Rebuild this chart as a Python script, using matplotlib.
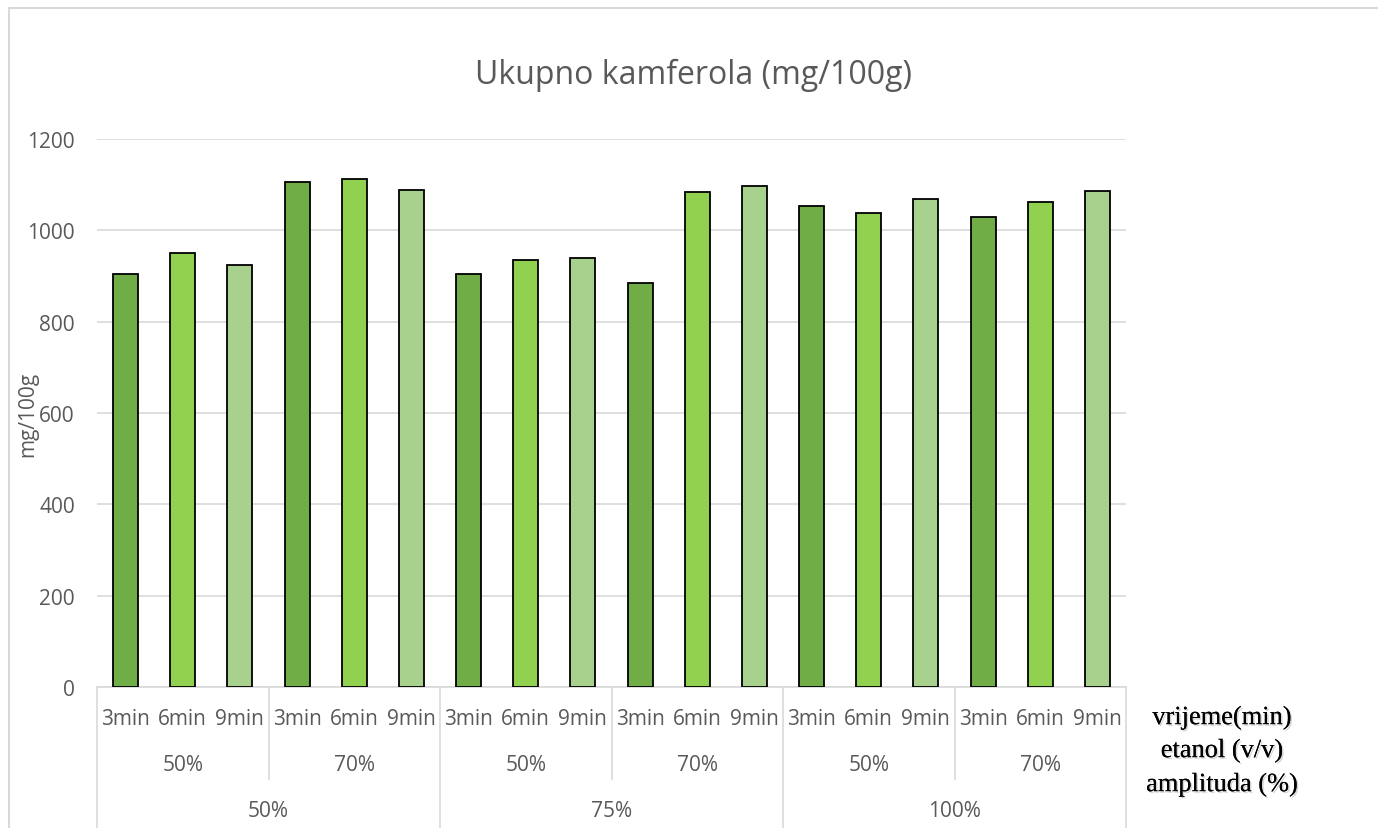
import numpy as np
import matplotlib
matplotlib.use("Agg")
from matplotlib import pyplot as plt
from matplotlib.patches import Rectangle
import matplotlib.patheffects as pe
import matplotlib.transforms as mtrans

amplitude = ['50%', '75%', '100%']
etanol = ['50%', '70%']
vrijeme = ['3min', '6min', '9min']

vals = [904, 951, 924, 1105, 1112, 1088,
        904, 936, 939, 885, 1085, 1098,
        1053, 1039, 1069, 1029, 1062, 1087]

colors = ['#70AD47', '#92D050', '#A9D18E']
grey = '#595959'
line_c = '#d9d9d9'

plt.rcParams['font.family'] = ['Open Sans', 'DejaVu Sans']

fig = plt.figure(figsize=(13.78, 8.29), dpi=100)
ax = fig.add_axes([97/1378, 141/829, 1029/1378, 548/829])

x = np.arange(len(vals))
bar_cols = [colors[i % 3] for i in range(len(vals))]
ax.bar(x, vals, width=0.44, color=bar_cols, edgecolor='black', linewidth=1.3, zorder=3)

ax.set_xlim(-0.5, len(vals) - 0.5)
ax.set_ylim(0, 1200)
ax.set_yticks(np.arange(0, 1201, 200))
ax.tick_params(axis='y', length=0, labelsize=15, labelcolor=grey, pad=16)
ax.set_xticks([])
ax.grid(axis='y', color=line_c, linewidth=1.2, zorder=0)
for s in ['top', 'right', 'left']:
    ax.spines[s].set_visible(False)
ax.spines['bottom'].set_color(line_c)
ax.spines['bottom'].set_linewidth(1.2)

ax.set_ylabel('mg/100g', fontsize=15, color=grey)
ax.yaxis.set_label_coords(-0.057, 0.5)
fig.text(693/1378, 1 - 75/829, 'Ukupno kamferola (mg/100g)', ha='center', va='center',
         fontsize=23, color=grey)

trans = mtrans.blended_transform_factory(ax.transData, ax.transAxes)

# category labels
y_min, y_eth, y_amp = -0.057, -0.142, -0.225
for i in range(len(vals)):
    ax.text(i, y_min, vrijeme[i % 3], transform=trans, ha='center', va='center',
            fontsize=15, color=grey)
for j in range(len(amplitude) * len(etanol)):
    ax.text(j * 3 + 1, y_eth, etanol[j % 2], transform=trans, ha='center', va='center',
            fontsize=15, color=grey)
for k in range(len(amplitude)):
    ax.text(k * 6 + 2.5, y_amp, amplitude[k], transform=trans, ha='center', va='center',
            fontsize=15, color=grey)

# separator lines
for b in range(0, len(vals) + 1, 3):
    xb = b - 0.5
    y_end = -0.26 if b % 6 == 0 else -0.168
    ax.plot([xb, xb], [0, y_end], transform=trans, color=line_c, linewidth=1.2,
            clip_on=False)

# level names on the right
shadow = [pe.withSimplePatchShadow(offset=(1.2, -1.2), shadow_rgbFace='#999999', alpha=0.4),
          pe.Normal()]
labels_r = ['vrijeme(min)', 'etanol (v/v)', 'amplituda (%)']
ys = [719, 752, 786]
for txt, yy in zip(labels_r, ys):
    fig.text(1222/1378, 1 - yy/829, txt, ha='center', va='center', fontsize=19,
             family='Liberation Serif', color='black', path_effects=shadow)

# chart frame
fig.patches.append(Rectangle((9/1378, -0.1), 1.2, 1.1 - 9/829, transform=fig.transFigure,
                             fill=False, edgecolor=line_c, linewidth=1.5))

fig.savefig('out.png', dpi=100)
